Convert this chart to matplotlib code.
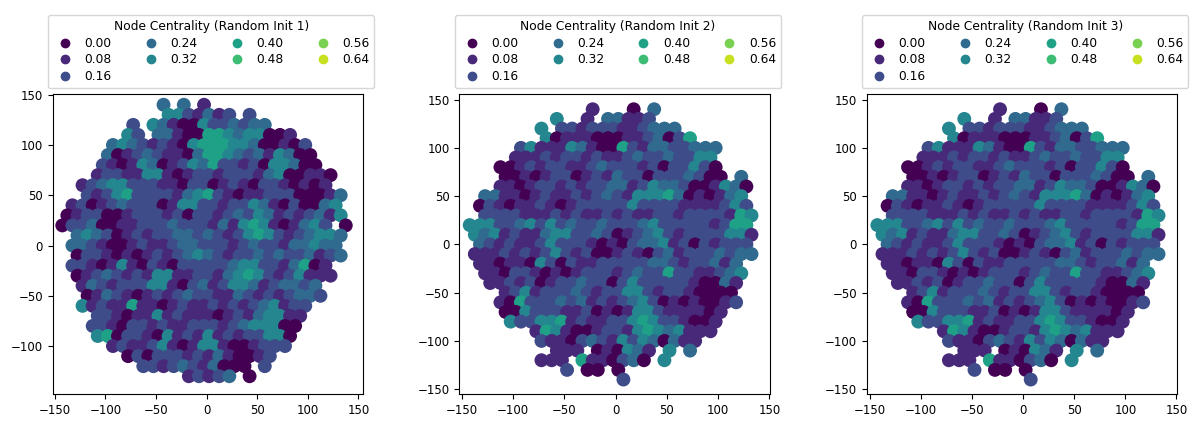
import numpy as np
import matplotlib
matplotlib.use("Agg")
import matplotlib.pyplot as plt
from matplotlib.lines import Line2D
from matplotlib.colors import Normalize

# colour maps: one row per 10 units of y (140 .. -140),
# one character per 10 units of x (-140 .. 140); digit k = centrality k*0.08, '.' = no node
grid_x = np.arange(-140, 141, 10)
grid_y = np.arange(140, -141, -10)

init1_map = [
    "..........3.3.1",
    "..........4421312.2",
    ".......2.431004223233",
    "......42.33100554344001",
    ".....34321210455544300102",
    "....301232110355432314300",
    "....2101430124352212044300",
    "...122114410122122213400110",
    "..1234422211022012102210101",
    "..21245222213452101122200013",
    ".120123222014422122431020034",
    "0122001222120221232431212314",
    "022300112223222131454101342.0",
    ".343201212233232124542123443",
    ".332100121123322212322133433",
    ".022101012123432122323223123",
    ".22101410210222223442213501",
    ".01232121441122134542124111",
    "..132122244102312443123323",
    "..013210121232211321212332",
    "..41211511012112121234122",
    "...221011412111012134411",
    "...221022121122212344400",
    "...45022104121412122440",
    ".....121124101441001222",
    "......020222121310012",
    "........22123213000.2",
    "............12123.0",
    "",
]

init2_map = [
    "............1...0.3",
    "........4..1.33112",
    ".......4.221222112333",
    ".......401110001123025",
    ".....24111431005213322333",
    "....11121221211232232244",
    "...0012122112322212022420",
    "...0010122012132202223200.3",
    "...1101221212233124332001430",
    ".33110121121232144453010134",
    ".021011210122222422221111242",
    ".222211121211212112212222154",
    "4442234242322322234222221255",
    "4341211344223201234212222441",
    ".321211242221010233412021222",
    "1112121242120012102312223233",
    ".11011042021122222332122313",
    ".11022101012221232252211234",
    "..1121201223220242222210031",
    "...12412223212244212210000",
    "...105222323121234201010012",
    "...0042221120101442111101",
    "....422445121122454221001",
    "......154100122145434111",
    ".......2110232142430311",
    "........111.010431.4.3",
    ".......111.5110230.4",
    ".........2.00.0",
    "...............2",
]

init3_map = list(init2_map)

panel_maps = [init1_map, init2_map, init3_map]
panel_titles = ["Node Centrality (Random Init 1)",
                "Node Centrality (Random Init 2)",
                "Node Centrality (Random Init 3)"]
legend_levels = [0.00, 0.08, 0.16, 0.24, 0.32, 0.40, 0.48, 0.56, 0.64]
level_step = 0.08

xlims = [(-152, 155), (-152.6, 150.7), (-153, 151)]
ylims = [(-147.7, 150.7), (-155, 155.8), (-155, 155.8)]
ax_lefts = [0.0439, 0.3828, 0.7222]


def map_to_points(rows):
    xs, ys, cs = [], [], []
    for r, row in enumerate(rows):
        shift = 2.5 if r % 2 else -2.5   # staggered rows, less of a lattice look
        for c, ch in enumerate(row[:len(grid_x)]):
            if ch == ".":
                continue
            xs.append(grid_x[c] + shift)
            ys.append(grid_y[r])
            cs.append(int(ch) * level_step)
    return np.array(xs), np.array(ys), np.array(cs)


cmap = plt.get_cmap("viridis")
norm = Normalize(vmin=0.0, vmax=0.70)

fig = plt.figure(figsize=(12, 4.25), dpi=100)
for i in range(3):
    ax = fig.add_axes([ax_lefts[i], 0.0729, 0.259, 0.7059])
    xs, ys, cs = map_to_points(panel_maps[i])
    ax.scatter(xs, ys, c=cs, cmap=cmap, norm=norm, s=100, linewidths=0)
    ax.set_xlim(*xlims[i])
    ax.set_ylim(*ylims[i])
    ax.set_xticks([-150, -100, -50, 0, 50, 100, 150])
    ax.tick_params(labelsize=8.5)

    handles = [Line2D([], [], marker="o", ls="", color=cmap(norm(v)), markersize=6)
               for v in legend_levels]
    labels = [f"{v:.2f}" for v in legend_levels]
    ax.legend(handles, labels, title=panel_titles[i], ncol=4, loc="lower center",
              bbox_to_anchor=(0.51, 1.02), fontsize=8.8, title_fontsize=8.8,
              handletextpad=0.6, columnspacing=2.2, labelspacing=0.3,
              borderaxespad=0.0)

fig.savefig("out.png", dpi=100)
